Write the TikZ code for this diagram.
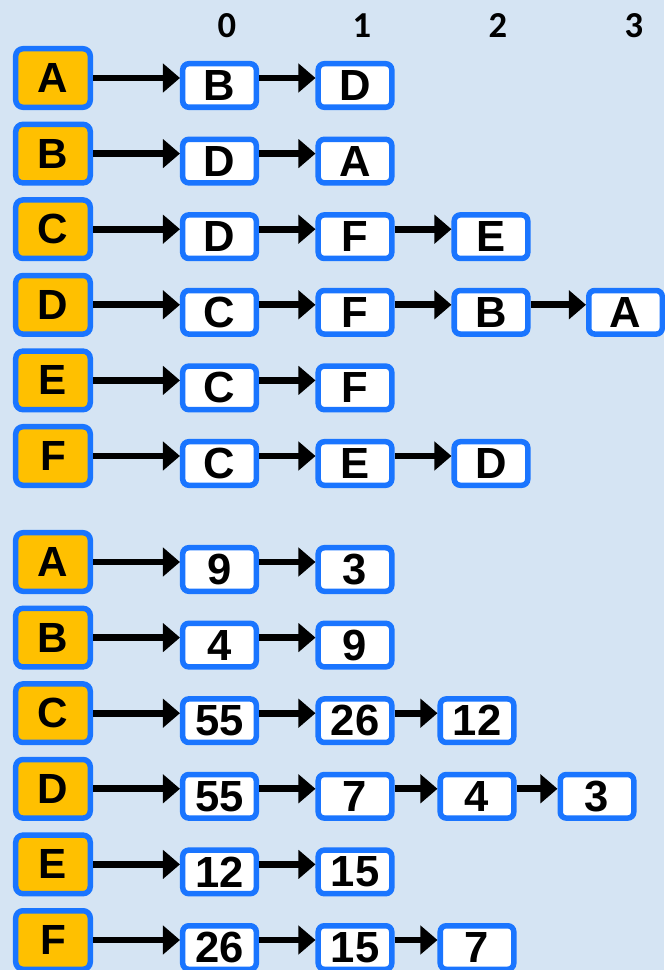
\documentclass[tikz,border=0pt]{standalone}
\usepackage{fontspec}
\setmainfont{Liberation Sans}[BoldFont={Liberation Sans Bold}]
\newfontfamily\idxfont{Carlito}
\usetikzlibrary{arrows.meta}
\definecolor{paper}{HTML}{D5E4F3}
\definecolor{edge}{HTML}{1A75FF}
\definecolor{gold}{HTML}{FFC000}

\begin{document}
\begin{tikzpicture}[x=0.025cm, y=-0.025cm,
  head/.style={draw=edge, fill=gold, line width=0.1375cm, rounded corners=0.18cm,
    minimum width=1.8625cm, minimum height=1.4625cm, inner sep=0pt,
    font=\bfseries\fontsize{30}{30}\selectfont},
  cell/.style={draw=edge, fill=white, line width=0.1375cm, rounded corners=0.15cm,
    minimum width=1.8375cm, minimum height=1.0875cm, inner sep=0pt,
    font=\bfseries\fontsize{31}{31}\selectfont},
  link/.style={line width=0.17cm, -{Triangle[length=0.425cm, width=0.7cm]}},
  idx/.style={font=\idxfont\bfseries\fontsize{26}{26}\selectfont}]
  \useasboundingbox (0,0) rectangle (664,970);
  \fill[paper] (0,0) rectangle (664,970);
  \foreach \i/\cx in {0/227, 1/362, 2/498, 3/634}
    \node[idx] (col\i) at (\cx,26) {\i};
  \foreach \r/\h/\cells in {0/A/{B,D}, 1/B/{D,A}, 2/C/{D,F,E}, 3/D/{C,F,B,A}, 4/E/{C,F}, 5/F/{C,E,D}}{
    \pgfmathsetmacro{\cy}{78+\r*75.6}
    \node[head] (g\r) at (53,\cy) {\h};
    \foreach \v [count=\k from 0] in \cells {
      \pgfmathsetmacro{\cx}{{219.5,355,491,625.5}[\k]}
      \pgfmathtruncatemacro{\j}{\k-1}
      \node[cell] (g\r-\k) at (\cx,\cy+7.5) {\v};
      \ifnum\k=0
        \draw[link] (g\r.east) -- (g\r.east -| g\r-\k.west);
      \else
        \draw[link] (g\r.east -| g\r-\j.east) -- (g\r.east -| g\r-\k.west);
      \fi}}
  \foreach \r/\h/\cells in {0/A/{9,3}, 1/B/{4,9}, 2/C/{55,26,12}, 3/D/{55,7,4,3}, 4/E/{12,15}, 5/F/{26,15,7}}{
    \pgfmathsetmacro{\cy}{562+\r*75.6}
    \node[head] (w\r) at (53,\cy) {\h};
    \foreach \v [count=\k from 0] in \cells {
      \pgfmathsetmacro{\cx}{{219.5,355,477,597}[\k]}
      \pgfmathtruncatemacro{\j}{\k-1}
      \node[cell] (w\r-\k) at (\cx,\cy+7.5) {\v};
      \ifnum\k=0
        \draw[link] (w\r.east) -- (w\r.east -| w\r-\k.west);
      \else
        \draw[link] (w\r.east -| w\r-\j.east) -- (w\r.east -| w\r-\k.west);
      \fi}}
\end{tikzpicture}
\end{document}
